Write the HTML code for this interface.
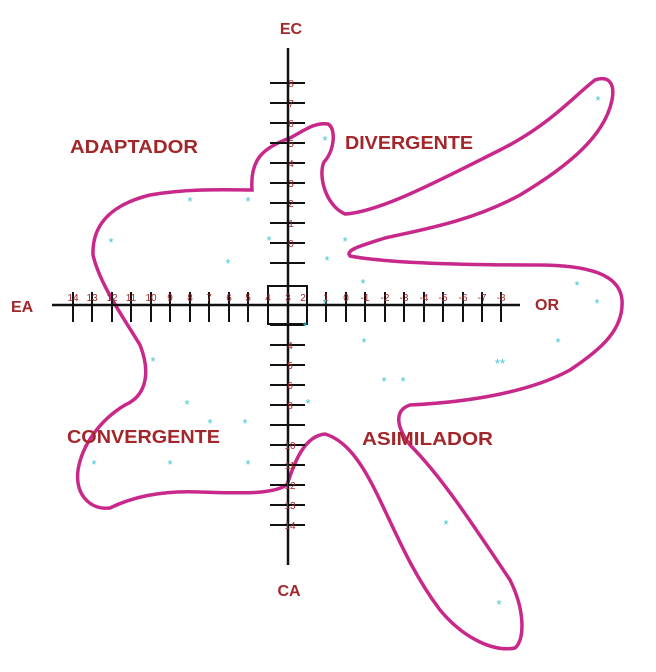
<!DOCTYPE html>
<html><head><style>
html,body{margin:0;padding:0;background:#fff;width:656px;height:672px;overflow:hidden}
svg{display:block}
text{font-family:"Liberation Sans",sans-serif;font-weight:bold;fill:#a3262a}
.s{fill:#3fc4d2;font-size:13px;font-weight:normal}
.n{fill:#a3262a;font-size:10px;font-weight:normal}
</style></head><body>
<svg width="656" height="672" viewBox="0 0 656 672">
<path d="M252,190 C250,160 262,148 290,138 C305,130 315,122 328,124 C336,128 335,150 324,162 C318,175 325,205 345,214 C380,212 440,180 500,150 C550,125 575,95 595,80 C610,75 615,85 612,100 C605,135 570,165 520,195 C470,222 420,230 385,238 C360,246 345,250 350,256 C380,262 450,265 530,265 C590,264 620,275 622,300 C624,330 600,350 570,370 C530,392 470,402 410,405 C395,410 395,425 410,445 C440,475 470,520 510,580 C525,610 525,640 515,648 C495,652 465,640 440,610 C410,570 395,530 375,490 C360,460 345,440 325,434 C305,436 295,460 287,485 C270,495 240,493 200,492 C160,490 130,498 110,508 C90,510 75,495 78,470 C82,445 100,420 125,405 C148,395 150,370 140,345 C125,320 100,285 93,255 C92,225 110,205 150,195 C190,188 230,190 252,190 Z" fill="none" stroke="#c8288a" stroke-width="3.5"/>
<g stroke="#111" stroke-width="2.5">
<line x1="288" y1="48" x2="288" y2="565"/>
<line x1="52" y1="305" x2="520" y2="305"/>
</g>
<g stroke="#111" stroke-width="2">
<path d="M270,83H305M270,103H305M270,123H305M270,143H305M270,163H305M270,183H305M270,203H305M270,223H305M270,243H305M270,263H305M270,325H305M270,345H305M270,365H305M270,385H305M270,405H305M270,425H305M270,445H305M270,465H305M270,485H305M270,505H305M270,525H305"/>
<path d="M73,292V322M92,292V322M112,292V322M131,292V322M151,292V322M170,292V322M190,292V322M209,292V322M229,292V322M248,292V322M268,292V322M307,292V322M326,292V322M346,292V322M365,292V322M385,292V322M404,292V322M424,292V322M443,292V322M463,292V322M482,292V322M501,292V322"/>
<rect x="268" y="286" width="39" height="38" fill="none"/>
</g>
<g class="n" text-anchor="middle">
<text class="n" x="73" y="301">14</text><text class="n" x="92" y="301">13</text><text class="n" x="112" y="301">12</text><text class="n" x="131" y="301">11</text><text class="n" x="151" y="301">10</text><text class="n" x="170" y="301">9</text><text class="n" x="190" y="301">8</text><text class="n" x="209" y="301">7</text><text class="n" x="229" y="301">6</text><text class="n" x="248" y="301">5</text><text class="n" x="268" y="301">4</text><text class="n" x="288" y="301">3</text><text class="n" x="303" y="301">2</text><text class="n" x="326" y="301">1</text><text class="n" x="346" y="301">0</text><text class="n" x="365" y="301">-1</text><text class="n" x="385" y="301">-2</text><text class="n" x="404" y="301">-3</text><text class="n" x="424" y="301">-4</text><text class="n" x="443" y="301">-5</text><text class="n" x="463" y="301">-6</text><text class="n" x="482" y="301">-7</text><text class="n" x="501" y="301">-8</text>
<text class="n" x="291" y="87">8</text><text class="n" x="291" y="107">7</text><text class="n" x="291" y="127">6</text><text class="n" x="291" y="147">5</text><text class="n" x="291" y="167">4</text><text class="n" x="291" y="187">3</text><text class="n" x="291" y="207">2</text><text class="n" x="291" y="227">1</text><text class="n" x="291" y="247">0</text>
<text class="n" x="290" y="349">4</text><text class="n" x="290" y="369">5</text><text class="n" x="290" y="389">6</text><text class="n" x="290" y="409">8</text>
<text class="n" x="290" y="449">10</text><text class="n" x="290" y="469">11</text><text class="n" x="290" y="489">12</text><text class="n" x="290" y="509">13</text><text class="n" x="290" y="529">14</text>
</g>
<text x="291" y="34" font-size="16" text-anchor="middle">EC</text>
<text x="289" y="596" font-size="16" text-anchor="middle">CA</text>
<text x="11" y="312" font-size="16">EA</text>
<text x="535" y="310" font-size="16">OR</text>
<text x="70" y="153" font-size="18" textLength="128" lengthAdjust="spacingAndGlyphs">ADAPTADOR</text>
<text x="345" y="149" font-size="18" textLength="128" lengthAdjust="spacingAndGlyphs">DIVERGENTE</text>
<text x="67" y="443" font-size="18" textLength="153" lengthAdjust="spacingAndGlyphs">CONVERGENTE</text>
<text x="362" y="445" font-size="18" textLength="131" lengthAdjust="spacingAndGlyphs">ASIMILADOR</text>
<g class="s" text-anchor="middle">
<text class="s" x="598" y="105">*</text><text class="s" x="325" y="145">*</text><text class="s" x="190" y="206">*</text><text class="s" x="248" y="206">*</text><text class="s" x="111" y="247">*</text><text class="s" x="269" y="245">*</text><text class="s" x="345" y="246">*</text><text class="s" x="228" y="268">*</text><text class="s" x="327" y="265">*</text><text class="s" x="363" y="288">*</text><text class="s" x="577" y="290">*</text><text class="s" x="597" y="308">*</text><text class="s" x="325" y="308">*</text><text class="s" x="305" y="331">*</text><text class="s" x="364" y="347">*</text><text class="s" x="558" y="347">*</text><text class="s" x="153" y="366">*</text><text class="s" x="500" y="368">**</text><text class="s" x="384" y="386">*</text><text class="s" x="403" y="386">*</text><text class="s" x="187" y="409">*</text><text class="s" x="308" y="408">*</text><text class="s" x="210" y="428">*</text><text class="s" x="245" y="428">*</text><text class="s" x="94" y="469">*</text><text class="s" x="170" y="469">*</text><text class="s" x="248" y="469">*</text><text class="s" x="446" y="529">*</text><text class="s" x="499" y="609">*</text>
</g>
</svg>
</body></html>
